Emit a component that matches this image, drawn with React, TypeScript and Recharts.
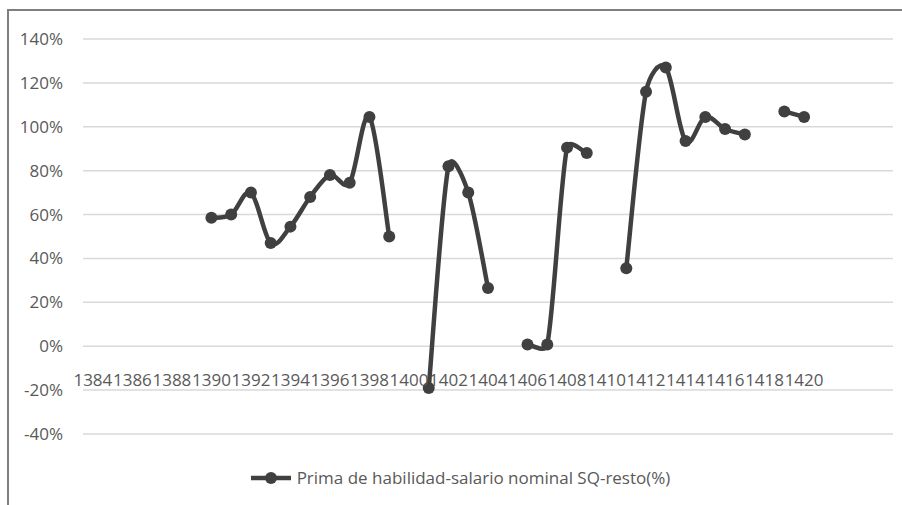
import React from "react";
import { CartesianGrid, Legend, Line, LineChart, XAxis, YAxis } from "recharts";

// years on the category axis (last four slots have no label)
const years = [
    "1384", "1385", "1386", "1387", "1388", "1389", "1390", "1391", "1392", "1393",
    "1394", "1395", "1396", "1397", "1398", "1399", "1400", "1401", "1402", "1403",
    "1404", "1405", "1406", "1407", "1408", "1409", "1410", "1411", "1412", "1413",
    "1414", "1415", "1416", "1417", "1418", "1419", "1420", "", "", "", "",
];

// Prima de habilidad-salario nominal SQ-resto (%), null = no data
const prima = [
    null, null, null, null, null, null, 58.5, 60, 70, 47,
    54.5, 68, 78, 74.5, 104.5, 50, null, -19, 82, 70,
    26.5, null, 0.8, 0.8, 90.5, 88, null, 35.5, 116, 127,
    93.5, 104.5, 99, 96.5, null, 107, 104.5, null, null, null, null,
];

const yTicks = [-40, -20, 0, 20, 40, 60, 80, 100, 120, 140];

const seriesName = "Prima de habilidad-salario nominal SQ-resto(%)";

const data = years.map((label, i) => ({ label, value: prima[i] }));

const ink = "#404040";
const textColor = "#595959";
const font = "'Open Sans', sans-serif";

type Pt = [number, number];

// excel-like smoothing: catmull-rom handles (1/6 of neighbour chord),
// capped at half the length of the segment they belong to
const excelSmooth = (context: any) => {
    let pts: Pt[] = [];
    const handle = (from: Pt, to: Pt, segLen: number): Pt => {
        const dx = (to[0] - from[0]) / 6;
        const dy = (to[1] - from[1]) / 6;
        const len = Math.hypot(dx, dy);
        const cap = segLen / 2;
        if (len <= cap || len === 0) return [dx, dy];
        return [(dx / len) * cap, (dy / len) * cap];
    };
    return {
        areaStart() {},
        areaEnd() {},
        lineStart() {
            pts = [];
        },
        lineEnd() {
            const n = pts.length;
            if (!n) return;
            context.moveTo(pts[0][0], pts[0][1]);
            for (let i = 0; i < n - 1; i++) {
                const p0 = pts[Math.max(i - 1, 0)];
                const p1 = pts[i];
                const p2 = pts[i + 1];
                const p3 = pts[Math.min(i + 2, n - 1)];
                const seg = Math.hypot(p2[0] - p1[0], p2[1] - p1[1]);
                const h1 = handle(p0, p2, seg);
                const h2 = handle(p1, p3, seg);
                context.bezierCurveTo(p1[0] + h1[0], p1[1] + h1[1], p2[0] - h2[0], p2[1] - h2[1], p2[0], p2[1]);
            }
        },
        point(x: number, y: number) {
            pts.push([+x, +y]);
        },
    };
};

const YearTick = (props: any) => {
    const { x, y, payload } = props;
    return (
        <text
            x={x}
            y={y - 55}
            textAnchor="middle"
            dominantBaseline="central"
            fill={textColor}
            fontSize={17}
            fontFamily={font}
        >
            {payload.value}
        </text>
    );
};

const LegendContent = () => (
    <div
        style={{
            display: "flex",
            justifyContent: "center",
            alignItems: "center",
            paddingLeft: 18,
            fontFamily: font,
            fontSize: 17,
            color: textColor,
        }}
    >
        <svg width={42} height={14} style={{ marginRight: 5 }}>
            <line x1={1} y1={7} x2={41} y2={7} stroke={ink} strokeWidth={4.5} />
            <circle cx={21} cy={7} r={6} fill={ink} />
        </svg>
        <span>{seriesName}</span>
    </div>
);

export default function App() {
    return (
        <div style={{ position: "absolute", left: 0, top: 0, width: 902, height: 505, background: "#fff" }}>
            <div
                style={{
                    position: "absolute",
                    left: 7,
                    top: 9,
                    right: 0,
                    bottom: 0,
                    borderLeft: "2px solid #7f7f7f",
                    borderTop: "2px solid #7f7f7f",
                }}
            />
            <LineChart
                width={902}
                height={505}
                data={data}
                margin={{ top: 39, right: 9, left: 0, bottom: 41 }}
            >
                <CartesianGrid vertical={false} stroke="#d9d9d9" strokeWidth={1.5} />
                <XAxis
                    dataKey="label"
                    interval={1}
                    axisLine={false}
                    tickLine={false}
                    tickSize={0}
                    tickMargin={0}
                    height={30}
                    padding={{ left: 9.88, right: 9.88 }}
                    tick={<YearTick />}
                />
                <YAxis
                    width={83}
                    domain={[-40, 140]}
                    ticks={yTicks}
                    axisLine={false}
                    tickLine={false}
                    tickSize={0}
                    tickMargin={20}
                    tickFormatter={(v: number) => `${v}%`}
                    tick={{ fill: textColor, fontSize: 17, fontFamily: font }}
                />
                <Legend
                    verticalAlign="middle"
                    align="center"
                    layout="horizontal"
                    wrapperStyle={{ top: 466, left: 0, width: 902 }}
                    content={<LegendContent />}
                />
                <Line
                    type={excelSmooth as any}
                    dataKey="value"
                    name={seriesName}
                    stroke={ink}
                    strokeWidth={4.5}
                    dot={{ r: 6, fill: ink, stroke: ink, strokeWidth: 0 }}
                    activeDot={false}
                    isAnimationActive={false}
                />
            </LineChart>
        </div>
    );
}
